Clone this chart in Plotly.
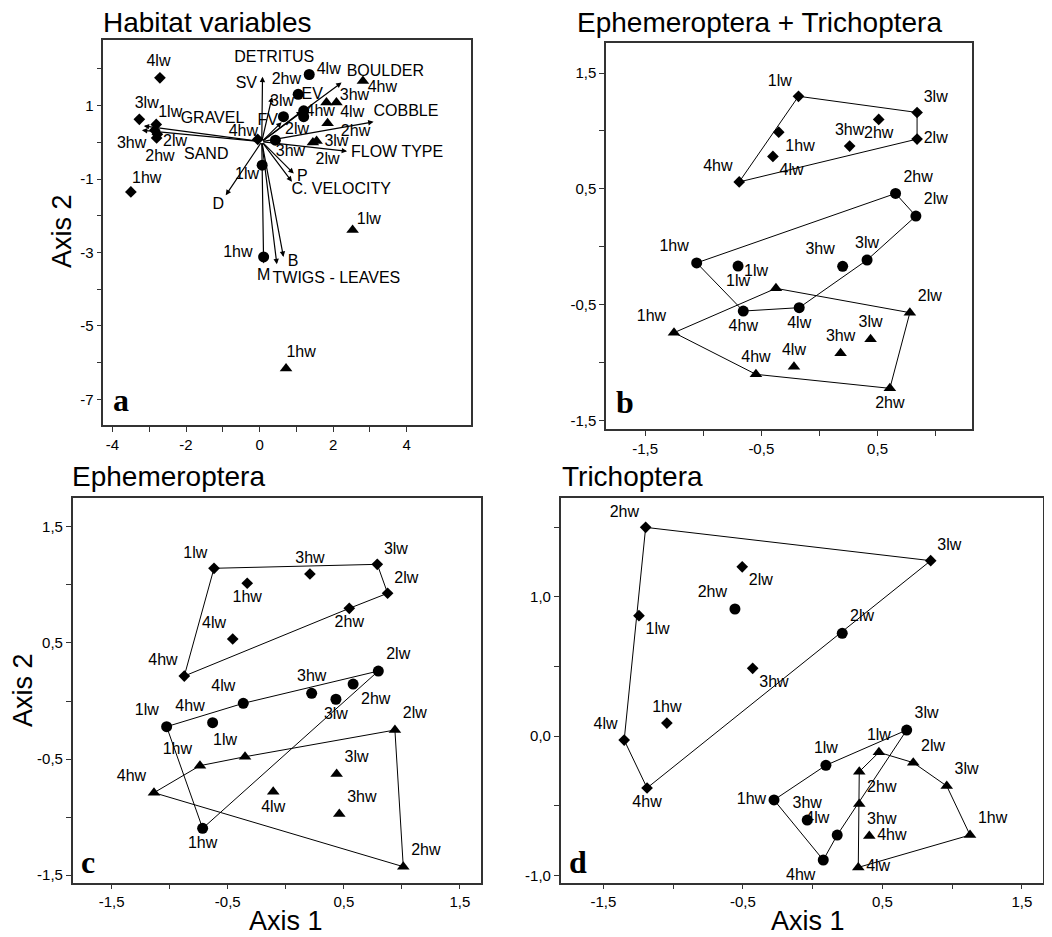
import plotly.graph_objects as go

SITES = ['1hw', '2hw', '3hw', '4hw', '1lw', '2lw', '3lw', '4lw']

# ---------------- Panel a: Habitat variables ----------------
A_ORIGIN = (0.06, 0.02)
A_VAR_NAMES = ['DETRITUS', 'SV', 'BOULDER', 'EV', 'FV', 'COBBLE', 'FLOW TYPE', 'P',
               'C. VELOCITY', 'D', 'M', 'TWIGS - LEAVES', 'B', 'GRAVEL', 'SAND']
A_VAR_X = [0.08, 0.34, 2.23, 1.15, 0.60, 3.10, 2.38, 0.93, 0.88, -0.92, 0.11, 0.47, 0.65, -3.15, -3.20]
A_VAR_Y = [1.79, 1.24, 1.63, 0.85, 0.55, 0.56, -0.24, -0.85, -1.07, -1.44, -3.30, -3.32, -3.12, 0.45, 0.33]
A_VAR_LX = [0.40, -0.36, 3.42, 1.43, 0.22, 3.98, 3.74, 1.16, 2.22, -1.12, 0.11, 2.09, 0.91, -1.28, -1.45]
A_VAR_LY = [2.30, 1.59, 1.92, 1.29, 0.58, 0.83, -0.28, -0.94, -1.30, -1.71, -3.64, -3.73, -3.25, 0.63, -0.35]

A_DIA_X = [-3.50, -2.80, -2.85, -0.05, -2.81, -2.78, -3.27, -2.71]
A_DIA_Y = [-1.35, 0.12, 0.33, 0.08, 0.49, 0.22, 0.63, 1.76]
A_DIA_LX = [-3.07, -2.71, -3.48, -0.44, -2.43, -2.30, -3.07, -2.75]
A_DIA_LY = [-1.00, -0.39, -0.03, 0.29, 0.79, 0.02, 1.04, 2.18]

A_CIR_X = [0.11, 1.05, 0.43, 1.20, 0.07, 1.20, 0.65, 1.35]
A_CIR_Y = [-3.12, 1.31, 0.06, 0.86, -0.62, 0.70, 0.70, 1.85]
A_CIR_LX = [-0.59, 0.73, 0.84, 1.65, -0.34, 1.02, 0.61, 1.88]
A_CIR_LY = [-3.01, 1.70, -0.26, 0.83, -0.89, 0.35, 1.11, 1.97]

A_TRI_X = [0.72, 1.85, 2.09, 2.81, 2.53, 1.45, 1.55, 1.82]
A_TRI_Y = [-6.16, 0.52, 1.09, 1.67, -2.39, 0.00, 0.04, 1.09]
A_TRI_LX = [1.13, 2.61, 2.58, 3.34, 2.97, 1.85, 2.09, 2.52]
A_TRI_LY = [-5.73, 0.27, 1.26, 1.47, -2.12, -0.48, 0.00, 0.79]

# ---------------- Panel b: Ephemeroptera + Trichoptera ----------------
B_DIA_X = [-0.35, 0.51, 0.26, -0.69, -0.18, 0.84, 0.84, -0.40]
B_DIA_Y = [0.99, 1.10, 0.87, 0.56, 1.30, 0.93, 1.16, 0.78]
B_DIA_POS = ['bottom right', 'bottom center', 'top center', 'top left', 'top left', 'middle right', 'top right', 'bottom right']
B_DIA_HULL = ['4hw', '1lw', '3lw', '2lw', '4hw']
B_CIR_X = [-1.056, 0.655, 0.20, -0.655, -0.70, 0.83, 0.41, -0.174]
B_CIR_Y = [-0.14, 0.46, -0.17, -0.556, -0.167, 0.265, -0.115, -0.527]
B_CIR_POS = ['top left', 'top right', 'top left', 'bottom center', 'bottom center', 'top right', 'top center', 'bottom center']
B_CIR_HULL = ['1hw', '2hw', '2lw', '3lw', '4lw', '4hw', '1hw']
B_TRI_X = [-1.251, 0.606, 0.182, -0.546, -0.374, 0.778, 0.44, -0.219]
B_TRI_Y = [-0.743, -1.224, -0.921, -1.103, -0.36, -0.57, -0.80, -1.037]
B_TRI_POS = ['top left', 'bottom center', 'top center', 'top center', 'top left', 'top right', 'top center', 'top center']
B_TRI_HULL = ['1hw', '1lw', '2lw', '2hw', '4hw', '1hw']

# ---------------- Panel c: Ephemeroptera ----------------
C_DIA_X = [-0.332, 0.547, 0.208, -0.874, -0.618, 0.877, 0.788, -0.457]
C_DIA_Y = [1.014, 0.798, 1.094, 0.215, 1.143, 0.928, 1.177, 0.534]
C_DIA_POS = ['bottom center', 'bottom center', 'top center', 'top left', 'top left', 'top right', 'top right', 'top left']
C_DIA_HULL = ['4hw', '1lw', '3lw', '2lw', '2hw', '4hw']
C_CIR_X = [-0.716, 0.58, 0.223, -0.63, -1.026, 0.797, 0.432, -0.366]
C_CIR_Y = [-1.097, 0.146, 0.066, -0.187, -0.221, 0.258, 0.015, -0.02]
C_CIR_POS = ['bottom center', 'bottom right', 'top center', 'top left', 'top left', 'top right', 'bottom center', 'top left']
C_CIR_HULL = ['1lw', '4lw', '2lw', '1hw', '1lw']
C_TRI_X = [-0.739, 1.012, 0.461, -1.135, -0.351, 0.94, 0.438, -0.108]
C_TRI_Y = [-0.557, -1.427, -0.973, -0.79, -0.48, -0.25, -0.629, -0.781]
C_TRI_POS = ['top left', 'top right', 'top right', 'top left', 'top left', 'top right', 'top right', 'bottom center']
C_TRI_HULL = ['4hw', '1hw', '1lw', '2lw', '2hw', '4hw']

# ---------------- Panel d: Trichoptera ----------------
D_DIA_X = [-1.045, -1.197, -0.43, -1.187, -1.245, -0.505, 0.846, -1.351]
D_DIA_Y = [0.093, 1.498, 0.486, -0.373, 0.864, 1.215, 1.259, -0.029]
D_DIA_POS = ['top center', 'top left', 'bottom right', 'bottom center', 'bottom right', 'bottom right', 'top right', 'top left']
D_DIA_HULL = ['2hw', '3lw', '4hw', '4lw', '2hw']
D_CIR_X = [-0.277, -0.557, -0.039, 0.076, 0.095, 0.212, 0.674, 0.176]
D_CIR_Y = [-0.459, 0.912, -0.603, -0.89, -0.21, 0.737, 0.043, -0.711]
D_CIR_POS = ['middle left', 'top left', 'top center', 'bottom left', 'top center', 'top right', 'top right', 'top left']
D_CIR_HULL = ['1hw', '1lw', '3lw', '4lw', '4hw', '1hw']
D_TRI_X = [1.128, 0.334, 0.334, 0.406, 0.475, 0.721, 0.961, 0.327]
D_TRI_Y = [-0.711, -0.256, -0.488, -0.718, -0.117, -0.191, -0.359, -0.943]
D_TRI_POS = ['top right', 'bottom right', 'bottom right', 'middle right', 'top center', 'top right', 'top right', 'middle right']
D_TRI_HULL = ['2hw', '1lw', '2lw', '3lw', '1hw', '4lw', '2hw']

# ---------------- Tick labels ----------------
A_XTICKS = [-4, -3, -2, -1, 0, 1, 2, 3, 4]
A_XTEXT = ['-4', '', '-2', '', '0', '', '2', '', '4']
A_YTICKS = [-7, -6, -5, -4, -3, -2, -1, 0, 1, 2]
A_YTEXT = ['-7', '', '-5', '', '-3', '', '-1', '', '1', '']
B_XTICKS = [-1.5, -1.0, -0.5, 0.0, 0.5, 1.0]
B_XTEXT = ['-1,5', '', '-0,5', '', '0,5', '']
HALF_TICKS = [-1.5, -1.0, -0.5, 0.0, 0.5, 1.0, 1.5]
HALF_TEXT = ['-1,5', '', '-0,5', '', '0,5', '', '1,5']
D_YTICKS = [-1.0, -0.5, 0.0, 0.5, 1.0, 1.5]
D_YTEXT = ['-1,0', '', '0,0', '', '1,0', '']

FONT = 'Arial, Liberation Sans, sans-serif'
SCREEN_W, SCREEN_H = 1052, 937
OFF = 8  # default page margin in front of the figure
W, H = SCREEN_W - OFF, SCREEN_H - OFF
LABEL_SIZE = 16

fig = go.Figure()

MARK = dict(diamond=dict(symbol='diamond', size=9),
            circle=dict(symbol='circle', size=11),
            tri=dict(symbol='triangle-up', size=11))


def add_group(xs, ys, pos, hull, kind, ax):
    xa, ya = ('x', 'y') if ax == 1 else ('x%d' % ax, 'y%d' % ax)
    if hull:
        hx = [xs[SITES.index(s)] for s in hull]
        hy = [ys[SITES.index(s)] for s in hull]
        fig.add_trace(go.Scatter(x=hx, y=hy, mode='lines', line=dict(color='black', width=1),
                                 xaxis=xa, yaxis=ya, showlegend=False, hoverinfo='skip'))
    m = MARK[kind]
    fig.add_trace(go.Scatter(x=xs, y=ys, mode='markers+text' if pos else 'markers',
                             text=SITES if pos else None, textposition=pos,
                             textfont=dict(family=FONT, size=LABEL_SIZE, color='black'),
                             marker=dict(symbol=m['symbol'], size=m['size'], color='black'),
                             cliponaxis=False, xaxis=xa, yaxis=ya, showlegend=False))


def add_labels(lx, ly, txt, ax, size):
    xa, ya = ('x', 'y') if ax == 1 else ('x%d' % ax, 'y%d' % ax)
    fig.add_trace(go.Scatter(x=lx, y=ly, mode='text', text=txt, textposition='middle center',
                             textfont=dict(family=FONT, size=size, color='black'),
                             cliponaxis=False, xaxis=xa, yaxis=ya, showlegend=False, hoverinfo='skip'))


# Panel a
annotations = []
for tx, ty in zip(A_VAR_X, A_VAR_Y):
    annotations.append(dict(x=tx, y=ty, ax=A_ORIGIN[0], ay=A_ORIGIN[1], xref='x', yref='y',
                            axref='x', ayref='y', showarrow=True, arrowhead=2, arrowsize=0.9,
                            arrowwidth=1.2, arrowcolor='black', text=''))
add_group(A_DIA_X, A_DIA_Y, None, None, 'diamond', 1)
add_group(A_CIR_X, A_CIR_Y, None, None, 'circle', 1)
add_group(A_TRI_X, A_TRI_Y, None, None, 'tri', 1)
add_labels(A_DIA_LX, A_DIA_LY, SITES, 1, LABEL_SIZE)
add_labels(A_CIR_LX, A_CIR_LY, SITES, 1, LABEL_SIZE)
add_labels(A_TRI_LX, A_TRI_LY, SITES, 1, LABEL_SIZE)
add_labels(A_VAR_LX, A_VAR_LY, A_VAR_NAMES, 1, 16)

# Panels b, c, d
add_group(B_DIA_X, B_DIA_Y, B_DIA_POS, B_DIA_HULL, 'diamond', 2)
add_group(B_CIR_X, B_CIR_Y, B_CIR_POS, B_CIR_HULL, 'circle', 2)
add_group(B_TRI_X, B_TRI_Y, B_TRI_POS, B_TRI_HULL, 'tri', 2)
add_group(C_DIA_X, C_DIA_Y, C_DIA_POS, C_DIA_HULL, 'diamond', 3)
add_group(C_CIR_X, C_CIR_Y, C_CIR_POS, C_CIR_HULL, 'circle', 3)
add_group(C_TRI_X, C_TRI_Y, C_TRI_POS, C_TRI_HULL, 'tri', 3)
add_group(D_DIA_X, D_DIA_Y, D_DIA_POS, D_DIA_HULL, 'diamond', 4)
add_group(D_CIR_X, D_CIR_Y, D_CIR_POS, D_CIR_HULL, 'circle', 4)
add_group(D_TRI_X, D_TRI_Y, D_TRI_POS, D_TRI_HULL, 'tri', 4)


def axis(domain, rng, tv, tt, anchor):
    return dict(domain=domain, range=rng, tickvals=tv, ticktext=tt, anchor=anchor,
                showgrid=False, zeroline=False, showline=True, mirror=True,
                linecolor='#333333', linewidth=1.5, ticks='outside', ticklen=5,
                tickcolor='#333333', tickwidth=1.2,
                tickfont=dict(family=FONT, size=15, color='black'))


def px_x(a, b):
    return [(a - OFF) / W, (b - OFF) / W]


def px_y(top, bottom):
    return [1 - (bottom - OFF) / H, 1 - (top - OFF) / H]


fig.update_layout(
    width=W, height=H, autosize=False,
    margin=dict(l=0, r=0, t=0, b=0),
    paper_bgcolor='white', plot_bgcolor='white',
    xaxis=axis(px_x(103.3, 471), [-4.25, 5.75], A_XTICKS, A_XTEXT, 'y'),
    yaxis=axis(px_y(40, 425), [-7.70, 2.79], A_YTICKS, A_YTEXT, 'x'),
    xaxis2=axis(px_x(606, 971.7), [-1.836, 1.31], B_XTICKS, B_XTEXT, 'y2'),
    yaxis2=axis(px_y(42.7, 429.3), [-1.578, 1.763], HALF_TICKS, HALF_TEXT, 'x2'),
    xaxis3=axis(px_x(72.7, 480.5), [-1.835, 1.677], HALF_TICKS, HALF_TEXT, 'y3'),
    yaxis3=axis(px_y(497.7, 882.7), [-1.565, 1.751], HALF_TICKS, HALF_TEXT, 'x3'),
    xaxis4=axis(px_x(560.7, 1043), [-1.806, 1.651], HALF_TICKS, HALF_TEXT, 'y4'),
    yaxis4=axis(px_y(497.7, 882.7), [-1.053, 1.711], D_YTICKS, D_YTEXT, 'x4'),
)


def paper_text(text, x, y, size, xanchor='left', angle=0, family=FONT):
    annotations.append(dict(text=text, x=(x - OFF) / W, y=1 - (y - OFF) / H, xref='paper', yref='paper',
                            xanchor=xanchor, yanchor='middle', showarrow=False, textangle=angle,
                            font=dict(family=family, size=size, color='black')))


TITLE_SIZE = 28
paper_text('Habitat variables', 101, 23, TITLE_SIZE)
paper_text('Ephemeroptera + Trichoptera', 575, 23, TITLE_SIZE)
paper_text('Ephemeroptera', 70, 476, TITLE_SIZE)
paper_text('Trichoptera', 560, 476, TITLE_SIZE)
paper_text('Axis 2', 62, 231, 27, xanchor='center', angle=-90)
paper_text('Axis 2', 23, 690, 27, xanchor='center', angle=-90)
paper_text('Axis 1', 286, 921, 27, xanchor='center')
paper_text('Axis 1', 808, 921, 27, xanchor='center')
SERIF = 'Times New Roman, Liberation Serif, serif'
paper_text('<b>a</b>', 121, 400, 32, xanchor='center', family=SERIF)
paper_text('<b>b</b>', 625, 402, 32, xanchor='center', family=SERIF)
paper_text('<b>c</b>', 88, 862, 32, xanchor='center', family=SERIF)
paper_text('<b>d</b>', 578, 862, 32, xanchor='center', family=SERIF)

fig.update_layout(annotations=annotations)
fig.write_html('out.html')
